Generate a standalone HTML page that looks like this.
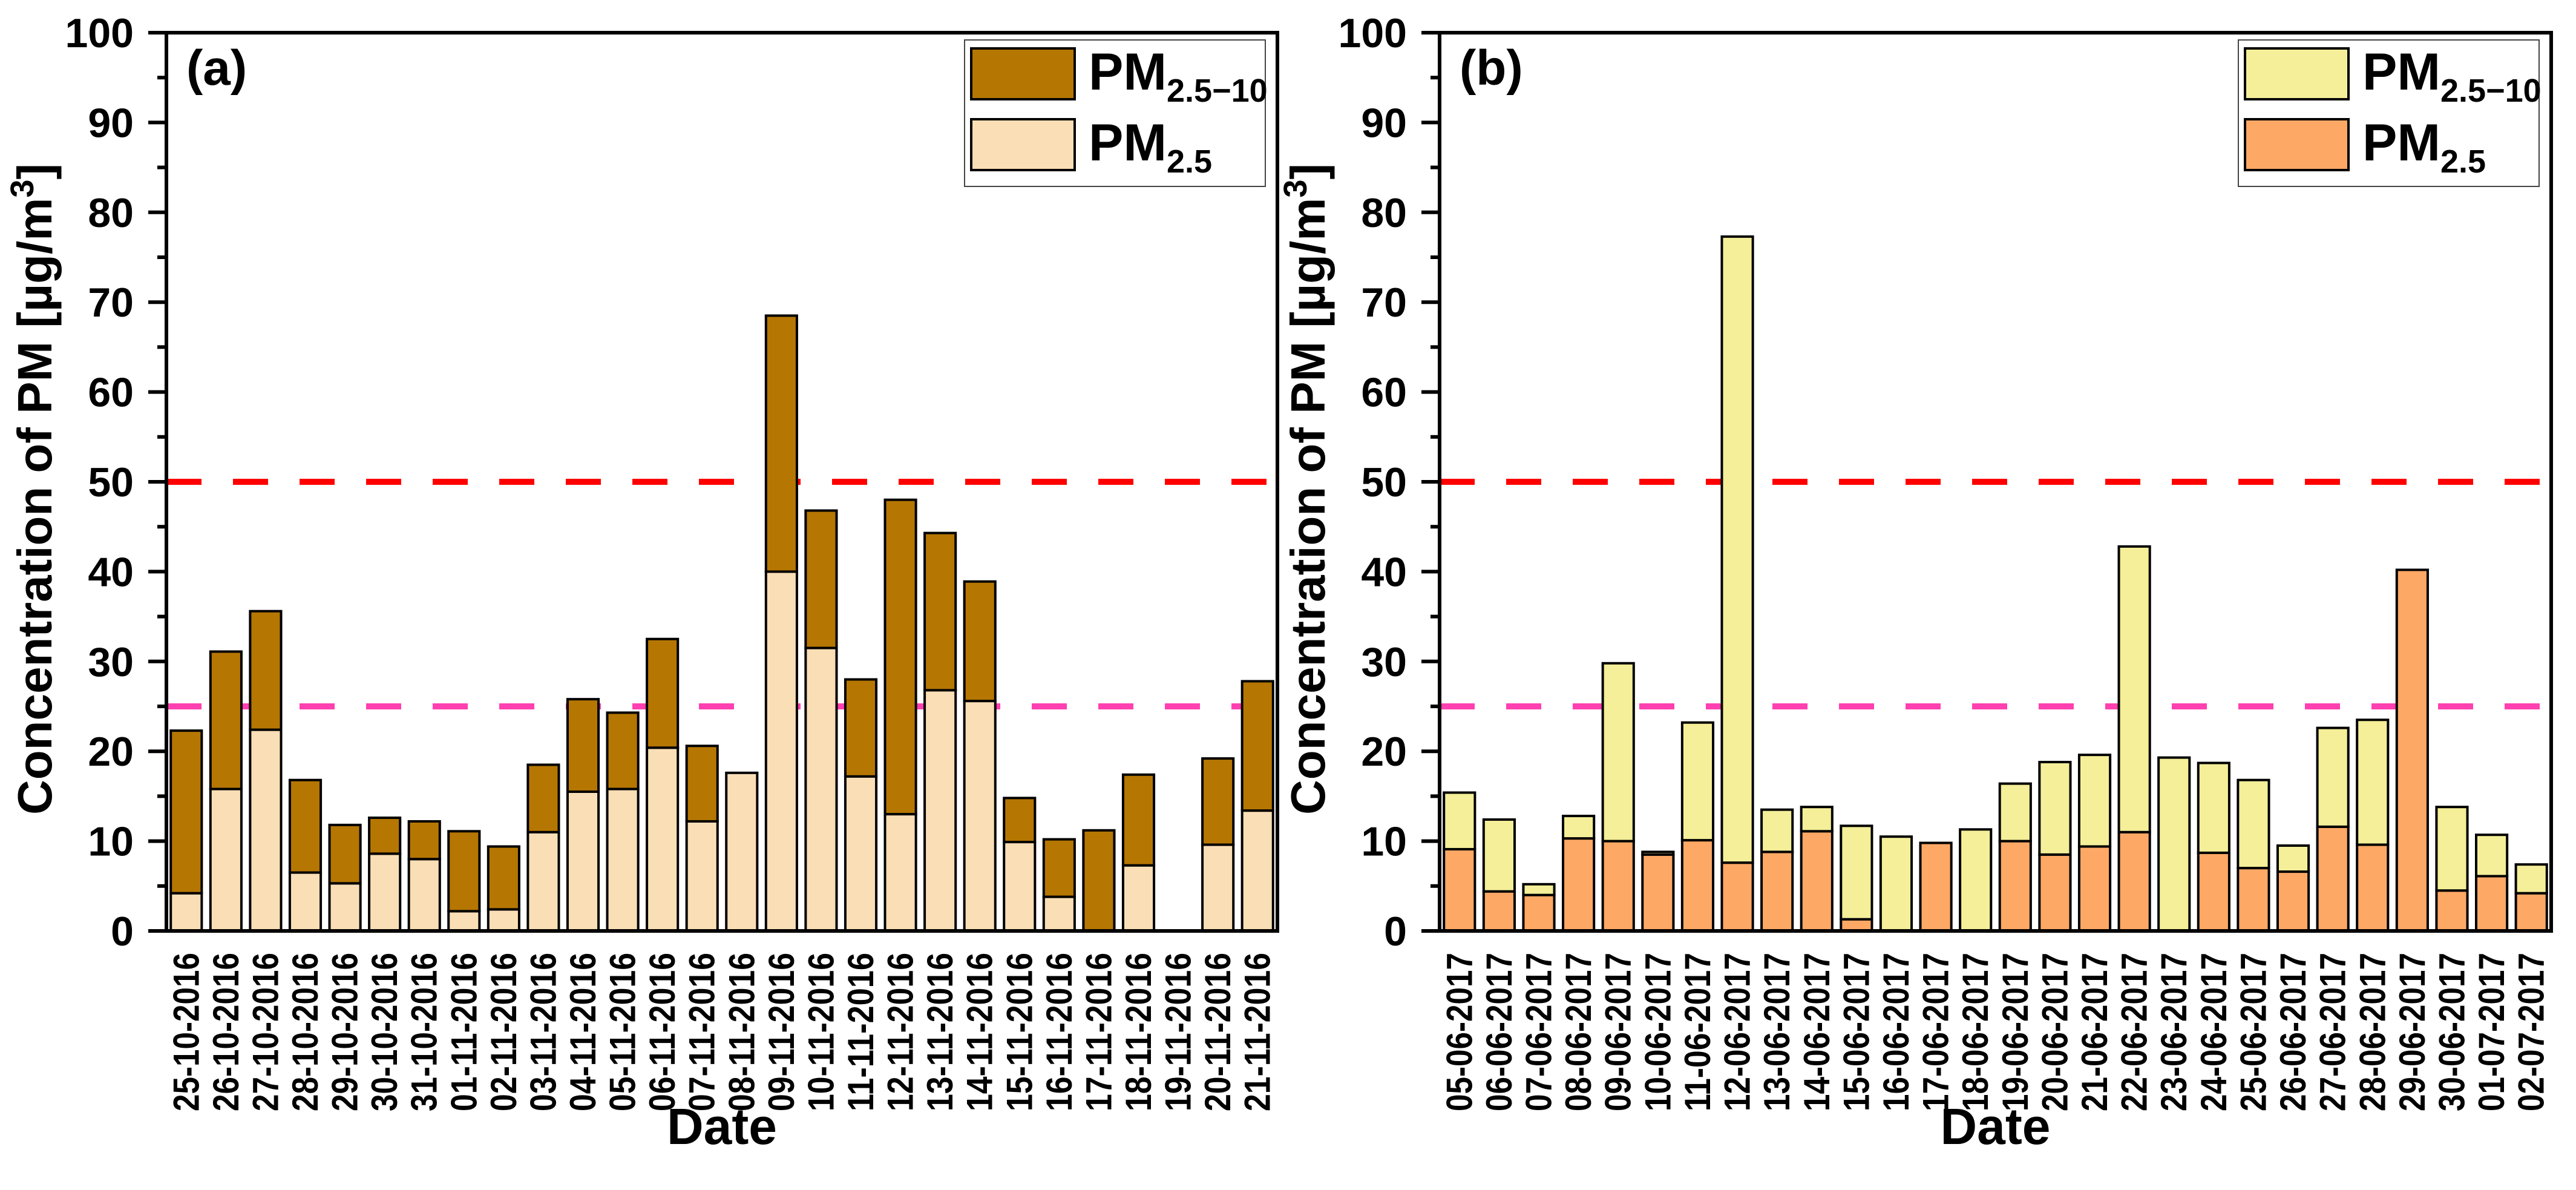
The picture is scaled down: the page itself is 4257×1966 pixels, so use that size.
<!DOCTYPE html>
<html><head><meta charset="utf-8"><style>
html,body{margin:0;padding:0;background:#fff;}
svg{display:block;}
text{font-family:"Liberation Sans",Arial,sans-serif;font-weight:bold;fill:#000;}
.n{font-family:"Liberation Sans Narrow","Liberation Sans",Arial,sans-serif;}
</style></head><body>
<svg id="chart" xmlns="http://www.w3.org/2000/svg" width="4257" height="1966" viewBox="0 0 4257 1966">
</svg>
<script>
const datesA = ["25-10-2016","26-10-2016","27-10-2016","28-10-2016","29-10-2016","30-10-2016","31-10-2016","01-11-2016","02-11-2016","03-11-2016","04-11-2016","05-11-2016","06-11-2016","07-11-2016","08-11-2016","09-11-2016","10-11-2016","11-11-2016","12-11-2016","13-11-2016","14-11-2016","15-11-2016","16-11-2016","17-11-2016","18-11-2016","19-11-2016","20-11-2016","21-11-2016"];
const pm25A = [4.2,15.8,22.4,6.5,5.3,8.6,8.0,2.2,2.4,11.0,15.5,15.8,20.4,12.2,17.6,40.0,31.5,17.2,13.0,26.8,25.6,9.9,3.8,0,7.3,0,9.6,13.4];
const totalA = [22.3,31.1,35.6,16.8,11.8,12.6,12.2,11.1,9.4,18.5,25.8,24.3,32.5,20.6,17.6,68.5,46.8,28.0,48.0,44.3,38.9,14.8,10.2,11.2,17.4,0,19.2,27.8];
const datesB = ["05-06-2017","06-06-2017","07-06-2017","08-06-2017","09-06-2017","10-06-2017","11-06-2017","12-06-2017","13-06-2017","14-06-2017","15-06-2017","16-06-2017","17-06-2017","18-06-2017","19-06-2017","20-06-2017","21-06-2017","22-06-2017","23-06-2017","24-06-2017","25-06-2017","26-06-2017","27-06-2017","28-06-2017","29-06-2017","30-06-2017","01-07-2017","02-07-2017"];
const pm25B = [9.1,4.4,4.0,10.3,10.0,8.5,10.1,7.6,8.8,11.1,1.3,0,9.8,0,10.0,8.5,9.4,11.0,0,8.7,7.0,6.6,11.6,9.6,40.2,4.5,6.1,4.2];
const totalB = [15.4,12.4,5.2,12.8,29.8,8.8,23.2,77.3,13.5,13.8,11.7,10.5,9.8,11.3,16.4,18.8,19.6,42.8,19.3,18.7,16.8,9.5,22.6,23.5,40.2,13.8,10.7,7.4];
const yTicks = [0,10,20,30,40,50,60,70,80,90,100];
const limitLines = [50,25];

const NS="http://www.w3.org/2000/svg";
const svg=document.getElementById('chart');
function mk(tag,attrs,parent){const e=document.createElementNS(NS,tag);for(const k in attrs)e.setAttribute(k,attrs[k]);(parent||svg).appendChild(e);return e;}

const TOP=54,BOT=1538;
function yS(v){return BOT-(v/100)*(BOT-TOP);}

function panel(cfg){
  const g=mk('g',{});
  
  
  const L=cfg.left,R=cfg.right,n=cfg.dates.length,pitch=(R-L)/n,bw=pitch*0.78;
  function xC(i){return L+(i+0.5)*pitch;}
  // limit lines (behind bars)
  const cols=['#FF0000','#FF40B0'];
  limitLines.forEach((v,k)=>{const l=mk('line',{x1:L,x2:R,y1:yS(v),y2:yS(v),stroke:cols[k],'stroke-width':10,'stroke-dasharray':'58 52'},g);
    
    });
  // bars
  for(let i=0;i<n;i++){
    const f=cfg.fine[i],t=cfg.total[i];
    if(f>0){const r=mk('rect',{x:xC(i)-bw/2,y:yS(f),width:bw,height:yS(0)-yS(f),fill:cfg.cFine,stroke:'#000','stroke-width':4},g);
      
      }
    if(t>f){const r=mk('rect',{x:xC(i)-bw/2,y:yS(t),width:bw,height:yS(f)-yS(t),fill:cfg.cCoarse,stroke:'#000','stroke-width':4},g);
      
      }
    const tx=mk('text',{x:0,y:0,'font-size':60,'text-anchor':'end','dominant-baseline':'central',transform:`translate(${xC(i)},1574) rotate(-90)`,textLength:262,lengthAdjust:'spacingAndGlyphs'},g);
    tx.textContent=cfg.dates[i];
    
    
  }
  // frame
  const fr=mk('rect',{x:L,y:TOP,width:R-L,height:BOT-TOP,fill:'none',stroke:'#000','stroke-width':6},g);
  
  
  // y ticks
  yTicks.forEach(v=>{
    mk('line',{x1:L-30,x2:L,y1:yS(v),y2:yS(v),stroke:'#000','stroke-width':6},g);
    if(v<100) mk('line',{x1:L-15,x2:L,y1:yS(v+5),y2:yS(v+5),stroke:'#000','stroke-width':6},g);
    const t=mk('text',{x:L-54,y:yS(v)+24,'font-size':68,'text-anchor':'end',class:'n'},g);
    t.textContent=v;
    
    
  });
  // panel label
  const pl=mk('text',{x:L+33,y:140,'font-size':82,class:'n'},g);
  pl.textContent=cfg.tag;
  
  
  // axis titles
  const yt=mk('text',{x:0,y:0,'font-size':80,'text-anchor':'middle',transform:`translate(${L-190},808) rotate(-90)`},g);
  yt.innerHTML='Concentration of PM [µg/m<tspan dy="-30" font-size="54">3</tspan><tspan dy="30">]</tspan>';
  
  
  const xt=mk('text',{x:(L+R)/2,y:1890,'font-size':84,'text-anchor':'middle'},g);
  xt.textContent='Date';
  
  
  // legend
  const lx=R-517;
  const lg=mk('g',{},g);
  
  
  mk('rect',{x:lx,y:66,width:497,height:242,fill:'#fff',stroke:'#444','stroke-width':2},lg);
  const items=[[cfg.cCoarse,'2.5−10',80],[cfg.cFine,'2.5',197]];
  items.forEach(it=>{
    const sw=mk('rect',{x:lx+11,y:it[2],width:171,height:84,fill:it[0],stroke:'#000','stroke-width':4},lg);
    
    
    const t=mk('text',{x:lx+205,y:it[2]+68,'font-size':86,class:'n'},lg);
    t.innerHTML='PM<tspan dy="20" font-size="54">'+it[1]+'</tspan>';
    
    
  });
}
panel({name:'panel-a',tag:'(a)',left:275,right:2111,dates:datesA,fine:pm25A,total:totalA,cFine:'#FADEB6',cCoarse:'#B57602'});
panel({name:'panel-b',tag:'(b)',left:2379,right:4216,dates:datesB,fine:pm25B,total:totalB,cFine:'#FDA865',cCoarse:'#F4EF98'});
</script>
</body></html>
